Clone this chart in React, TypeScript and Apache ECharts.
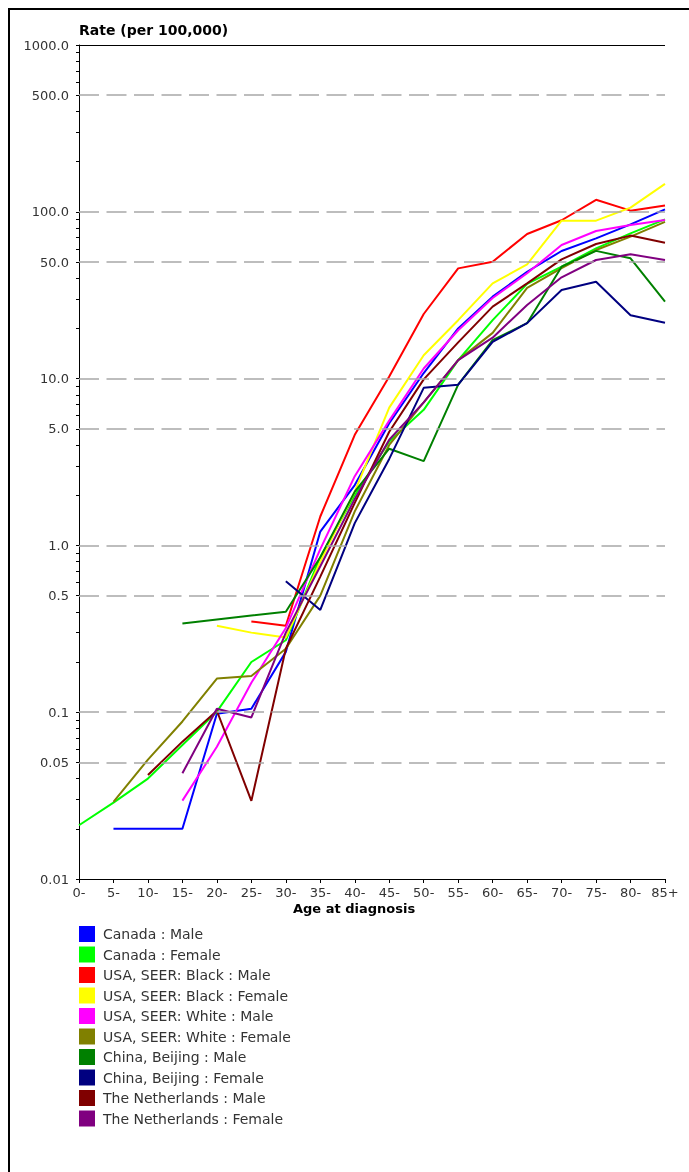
import React, { useEffect, useRef } from "react";
import * as echarts from "echarts";

const ageGroups = ["0-", "5-", "10-", "15-", "20-", "25-", "30-", "35-", "40-", "45-", "50-", "55-", "60-", "65-", "70-", "75-", "80-", "85+"];

const canadaMale = [null, 0.02, 0.02, 0.02, 0.098, 0.105, 0.23, 1.21, 2.3, 5.4, 10.8, 20, 31, 43.7, 58.2, 69.3, 84, 103.5];
const canadaFemale = [0.021, 0.0287, 0.04, 0.0636, 0.1007, 0.2, 0.27, 0.85, 2.0, 4.2, 6.5, 12.9, 22.4, 37, 46.9, 60.4, 74.3, 90];
const usaBlackMale = [null, null, null, null, null, 0.35, 0.33, 1.49, 4.6, 10.3, 24.4, 45.8, 50.2, 73.6, 89, 118, 101.6, 109];
const usaBlackFemale = [null, null, null, null, 0.33, 0.3, 0.28, 0.8, 2.1, 6.7, 13.8, 22.4, 37.2, 48.4, 88.5, 88.5, 106, 147];
const usaWhiteMale = [null, null, null, 0.0295, 0.062, 0.15, 0.32, 0.95, 2.6, 5.6, 11.5, 19.5, 30.4, 42.8, 63.2, 76.7, 83.4, 89.4];
const usaWhiteFemale = [null, 0.029, 0.052, 0.088, 0.159, 0.165, 0.24, 0.5, 1.6, 4.0, 7.2, 12.9, 18.8, 35, 46, 59, 71, 87];
const beijingMale = [null, null, null, 0.34, 0.36, 0.38, 0.4, 0.85, 2.1, 3.8, 3.2, 9.2, 17, 21.5, 46.9, 58.3, 52.6, 28.9];
const beijingFemale = [null, null, null, null, null, null, 0.61, 0.41, 1.36, 3.3, 8.8, 9.2, 16.6, 21.5, 34, 38.1, 24, 21.6];
const netherlandsMale = [null, null, 0.042, 0.0666, 0.102, 0.0294, 0.24, 0.65, 1.8, 4.8, 9.9, 16.5, 27, 37.2, 51.9, 64.1, 72, 65.3];
const netherlandsFemale = [null, null, null, 0.043, 0.105, 0.093, 0.3, 0.75, 1.9, 4.3, 7.2, 12.9, 17.6, 27.6, 40.5, 51.4, 55.6, 51.4];

const seriesNames = [
  "Canada : Male",
  "Canada : Female",
  "USA, SEER: Black : Male",
  "USA, SEER: Black : Female",
  "USA, SEER: White : Male",
  "USA, SEER: White : Female",
  "China, Beijing : Male",
  "China, Beijing : Female",
  "The Netherlands : Male",
  "The Netherlands : Female",
];
const seriesValues = [
  canadaMale,
  canadaFemale,
  usaBlackMale,
  usaBlackFemale,
  usaWhiteMale,
  usaWhiteFemale,
  beijingMale,
  beijingFemale,
  netherlandsMale,
  netherlandsFemale,
];
const seriesColors = ["#0000ff", "#00ff00", "#ff0000", "#ffff00", "#ff00ff", "#808000", "#008000", "#000080", "#800000", "#800080"];

const yLabelValues = [0.01, 0.05, 0.1, 0.5, 1, 5, 10, 50, 100, 500, 1000];
const yGridValues = [500, 100, 50, 10, 5, 1, 0.5, 0.1, 0.05];
const decades = [0.01, 0.1, 1, 10, 100];
const minorSteps = [1, 2, 3, 4, 5, 6, 7, 8, 9];

const FONT = "'DejaVu Sans', Verdana, sans-serif";

export default function App() {
  const ref = useRef<HTMLDivElement>(null);

  useEffect(() => {
    if (!ref.current) return;
    const chart = echarts.init(ref.current, undefined, { renderer: "svg" });

    const tickLogs: number[] = [];
    decades.forEach((d) => minorSteps.forEach((m) => tickLogs.push(Math.log10(d * m))));
    tickLogs.push(3);
    const labelLogs = yLabelValues.map((v) => Math.log10(v));

    const fmt = (v: number) => {
      const x = Number(Math.pow(10, v).toPrecision(4));
      return x >= 1 ? x.toFixed(1) : String(x);
    };

    const lineSeries = seriesNames.map((name, i) => ({
      name,
      type: "line",
      xAxisIndex: 0,
      yAxisIndex: 0,
      data: seriesValues[i],
      symbol: "none",
      connectNulls: false,
      color: seriesColors[i],
      lineStyle: { width: 2, color: seriesColors[i] },
      z: 3,
    }));

    const gridSeries = {
      name: "__grid",
      type: "line",
      xAxisIndex: 0,
      yAxisIndex: 0,
      data: [],
      symbol: "none",
      z: 1,
      markLine: {
        silent: true,
        symbol: ["none", "none"],
        label: { show: false },
        lineStyle: { color: "#a8a8a8", type: [20, 7.5], width: 1.5 },
        emphasis: { disabled: true },
        data: [
          ...yGridValues.map((v) => ({ yAxis: v })),
          { yAxis: 1000, lineStyle: { color: "#000", type: "solid", width: 1 } },
        ],
      },
    };

    chart.setOption({
      animation: false,
      backgroundColor: "transparent",
      textStyle: { fontFamily: FONT },
      title: [
        {
          text: "Rate (per 100,000)",
          left: 79,
          top: 23,
          padding: 0,
          textStyle: { fontFamily: FONT, fontSize: 14, fontWeight: "bold", color: "#000" },
        },
        {
          text: "Age at diagnosis",
          left: 293,
          top: 902,
          padding: 0,
          textStyle: { fontFamily: FONT, fontSize: 13, fontWeight: "bold", color: "#000" },
        },
      ],
      grid: { left: 79, right: 24, top: 45, bottom: 293 },
      legend: {
        orient: "vertical",
        left: 79,
        top: 926,
        padding: 0,
        itemWidth: 16,
        itemHeight: 16,
        itemGap: 4.5,
        icon: "rect",
        data: seriesNames,
        selectedMode: false,
        textStyle: { fontFamily: FONT, fontSize: 14, color: "#333", padding: [0, 0, 0, 3] },
      },
      xAxis: {
        type: "category",
        data: ageGroups,
        boundaryGap: false,
        axisLine: { onZero: false, lineStyle: { color: "#000", width: 1 } },
        axisTick: { show: true, length: 4, lineStyle: { color: "#000" } },
        axisLabel: { interval: 0, fontFamily: FONT, fontSize: 13, color: "#333", margin: 7 },
        splitLine: { show: false },
      },
      yAxis: [
        {
          type: "log",
          logBase: 10,
          min: 0.01,
          max: 1000,
          axisLine: { show: true, lineStyle: { color: "#000", width: 1 } },
          axisTick: { show: false },
          axisLabel: { show: false },
          splitLine: { show: false },
        },
        {
          type: "value",
          min: -2,
          max: 3,
          position: "left",
          offset: 0,
          axisLine: { show: false, onZero: false },
          axisTick: { show: true, customValues: tickLogs, length: 3, lineStyle: { color: "#000" } },
          axisLabel: {
            show: true,
            customValues: labelLogs,
            formatter: fmt,
            margin: 10,
            fontFamily: FONT,
            fontSize: 13,
            color: "#333",
          },
          splitLine: { show: false },
        },
      ],
      series: [gridSeries, ...lineSeries],
    });

    return () => chart.dispose();
  }, []);

  return (
    <>
      <div
        style={{
          position: "fixed",
          left: 8,
          top: 8,
          width: 900,
          height: 1400,
          borderTop: "2px solid #000",
          borderLeft: "2px solid #000",
          boxSizing: "border-box",
        }}
      />
      <div ref={ref} style={{ position: "fixed", left: 0, top: 0, width: 689, height: 1172 }} />
    </>
  );
}
